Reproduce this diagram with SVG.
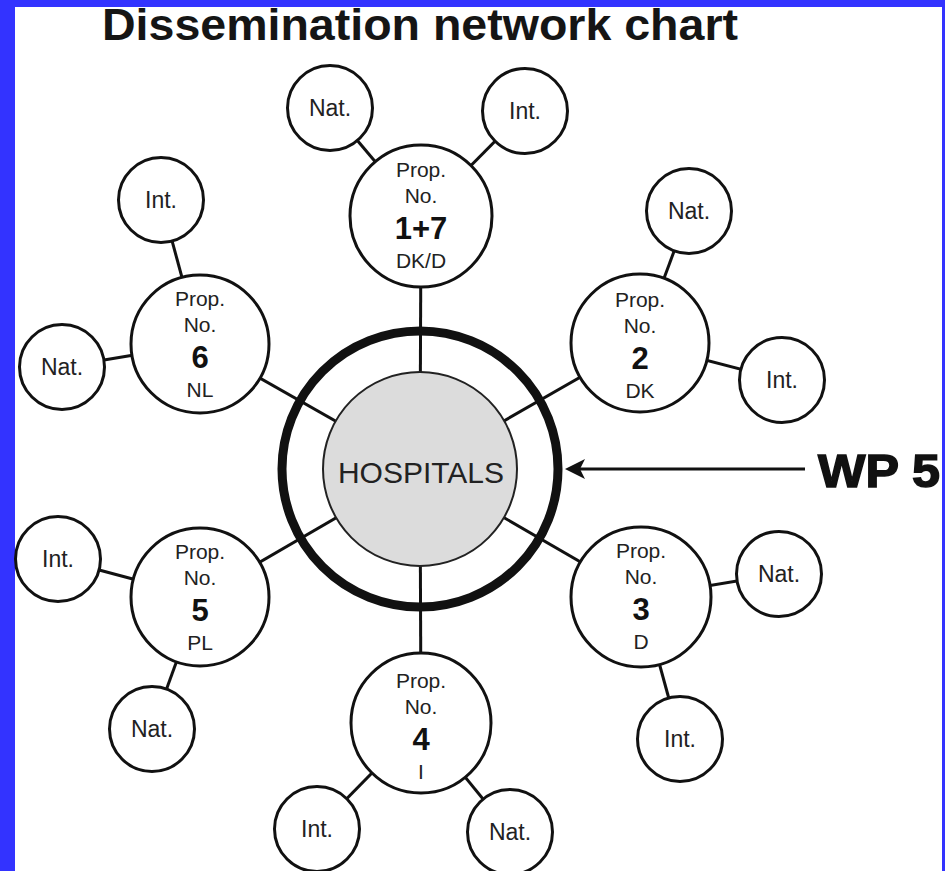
<svg xmlns="http://www.w3.org/2000/svg" width="945" height="871" viewBox="0 0 945 871">
<defs>
<style>
.bg{fill:#ffffff}
.border{fill:#3333ff}
.node{fill:#ffffff;stroke:#111111;stroke-width:3}
.sat{fill:#ffffff;stroke:#111111;stroke-width:3}
.conn{stroke:#111111;stroke-width:3;fill:none}
.t{font-family:"Liberation Sans",Arial,sans-serif;fill:#222222;text-anchor:middle}
.p{font-size:21px}
.num{font-size:31px;font-weight:bold;fill:#111111}
.s{font-size:23px}
</style>
</defs>
<rect class="bg" x="0" y="0" width="945" height="871"/>
<rect class="border" x="0" y="0" width="945" height="7"/>
<rect class="border" x="0" y="0" width="15" height="871"/>
<rect class="border" x="942" y="0" width="3" height="871"/>
<text x="102" y="40" font-family="'Liberation Sans',Arial,sans-serif" font-weight="bold" font-size="44" fill="#151515" textLength="636" lengthAdjust="spacingAndGlyphs">Dissemination network chart</text>

<g id="connectors">
<line class="conn" x1="420" y1="469" x2="421" y2="216"/>
<line class="conn" x1="420" y1="469" x2="640" y2="343"/>
<line class="conn" x1="420" y1="469" x2="641" y2="597"/>
<line class="conn" x1="420" y1="469" x2="421" y2="723"/>
<line class="conn" x1="420" y1="469" x2="200" y2="597"/>
<line class="conn" x1="420" y1="469" x2="200" y2="344"/>
<line class="conn" x1="421" y1="216" x2="330" y2="108"/>
<line class="conn" x1="421" y1="216" x2="525" y2="111"/>
<line class="conn" x1="640" y1="343" x2="689" y2="211"/>
<line class="conn" x1="640" y1="343" x2="782" y2="380"/>
<line class="conn" x1="641" y1="597" x2="779" y2="574"/>
<line class="conn" x1="641" y1="597" x2="680" y2="739"/>
<line class="conn" x1="421" y1="723" x2="317" y2="829"/>
<line class="conn" x1="421" y1="723" x2="510" y2="832"/>
<line class="conn" x1="200" y1="597" x2="58" y2="559"/>
<line class="conn" x1="200" y1="597" x2="152" y2="729"/>
<line class="conn" x1="200" y1="344" x2="161" y2="200"/>
<line class="conn" x1="200" y1="344" x2="62" y2="367"/>
<line x1="805" y1="469" x2="578" y2="469" stroke="#111111" stroke-width="3"/>
<path d="M565,469 L585,459 L580,469 L585,479 Z" fill="#111111"/>
</g>

<g id="hub">
<circle cx="420" cy="469" r="138" fill="none" stroke="#111111" stroke-width="9"/>
<circle cx="420" cy="469" r="97" fill="#dcdcdc" stroke="#222222" stroke-width="2"/>
<text class="t" x="421" y="483" font-size="30">HOSPITALS</text>
</g>

<g id="wp5">
<text x="818" y="487" font-family="'Liberation Sans',Arial,sans-serif" font-weight="bold" font-size="47" fill="#111111" stroke="#111111" stroke-width="1.5" textLength="122" lengthAdjust="spacingAndGlyphs">WP 5</text>
</g>

<g id="prop17">
<circle class="node" cx="421" cy="216" r="71"/>
<text class="t p" x="421" y="177">Prop.</text>
<text class="t p" x="421" y="203">No.</text>
<text class="t num" x="421" y="239">1+7</text>
<text class="t p" x="421" y="268">DK/D</text>
</g>
<g id="prop2">
<circle class="node" cx="640" cy="343" r="69"/>
<text class="t p" x="640" y="307">Prop.</text>
<text class="t p" x="640" y="333">No.</text>
<text class="t num" x="640" y="369">2</text>
<text class="t p" x="640" y="398">DK</text>
</g>
<g id="prop3">
<circle class="node" cx="641" cy="597" r="70"/>
<text class="t p" x="641" y="558">Prop.</text>
<text class="t p" x="641" y="584">No.</text>
<text class="t num" x="641" y="620">3</text>
<text class="t p" x="641" y="649">D</text>
</g>
<g id="prop4">
<circle class="node" cx="421" cy="723" r="70"/>
<text class="t p" x="421" y="688">Prop.</text>
<text class="t p" x="421" y="714">No.</text>
<text class="t num" x="421" y="750">4</text>
<text class="t p" x="421" y="779">I</text>
</g>
<g id="prop5">
<circle class="node" cx="200" cy="597" r="69"/>
<text class="t p" x="200" y="559">Prop.</text>
<text class="t p" x="200" y="585">No.</text>
<text class="t num" x="200" y="621">5</text>
<text class="t p" x="200" y="650">PL</text>
</g>
<g id="prop6">
<circle class="node" cx="200" cy="344" r="69"/>
<text class="t p" x="200" y="306">Prop.</text>
<text class="t p" x="200" y="332">No.</text>
<text class="t num" x="200" y="368">6</text>
<text class="t p" x="200" y="397">NL</text>
</g>

<g id="nat17"><circle class="sat" cx="330" cy="108" r="42.5"/><text class="t s" x="330" y="116">Nat.</text></g>
<g id="int17"><circle class="sat" cx="525" cy="111" r="42.5"/><text class="t s" x="525" y="119">Int.</text></g>
<g id="nat2"><circle class="sat" cx="689" cy="211" r="42.5"/><text class="t s" x="689" y="219">Nat.</text></g>
<g id="int2"><circle class="sat" cx="782" cy="380" r="42.5"/><text class="t s" x="782" y="388">Int.</text></g>
<g id="nat3"><circle class="sat" cx="779" cy="574" r="42.5"/><text class="t s" x="779" y="582">Nat.</text></g>
<g id="int3"><circle class="sat" cx="680" cy="739" r="42.5"/><text class="t s" x="680" y="747">Int.</text></g>
<g id="int4"><circle class="sat" cx="317" cy="829" r="42.5"/><text class="t s" x="317" y="837">Int.</text></g>
<g id="nat4"><circle class="sat" cx="510" cy="832" r="42.5"/><text class="t s" x="510" y="840">Nat.</text></g>
<g id="int5"><circle class="sat" cx="58" cy="559" r="42.5"/><text class="t s" x="58" y="567">Int.</text></g>
<g id="nat5"><circle class="sat" cx="152" cy="729" r="42.5"/><text class="t s" x="152" y="737">Nat.</text></g>
<g id="int6"><circle class="sat" cx="161" cy="200" r="42.5"/><text class="t s" x="161" y="208">Int.</text></g>
<g id="nat6"><circle class="sat" cx="62" cy="367" r="42.5"/><text class="t s" x="62" y="375">Nat.</text></g>
</svg>
